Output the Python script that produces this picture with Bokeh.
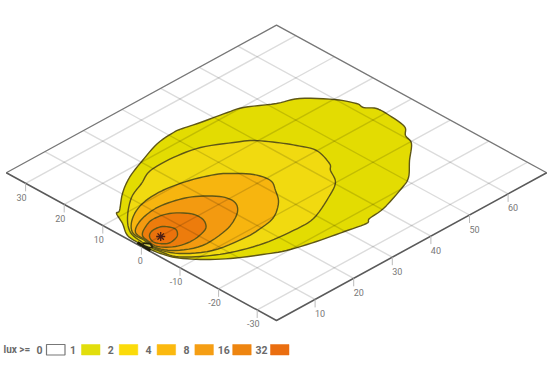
from bokeh.plotting import figure
from bokeh.embed import file_html
from bokeh.resources import INLINE
from bokeh.core.properties import value
import numpy as np

# plan coordinates: u runs along the lower-right edge, v along the lower-left edge
u_ticks = [10, 20, 30, 40, 50, 60]
v_ticks = [30, 20, 10, 0, -10, -20, -30]
u_limits = (0, 70)
v_limits = (-35, 35)

lux1_u = [0.3,0.5,0.84,3.04,4.63,5.73,10.15,14.85,20.56,26.53,31.21,33.32,37.08,42.94,46.2,51.42,55.59,59.88,61.78,61.74,63.19,63.22,62.55,60.55,59.43,55.14,50.98,47.47,40.4,36.22,34.64,29.9,23.9,17.88,13.83,8.73,4.61,1.85,0.85,0.5]
lux1_v = [-0.2,1.0,4.44,7.93,11.08,11.4,15.05,17.93,20.28,22.36,22.89,22.67,21.77,20.63,19.75,16.42,14.63,9.85,6.06,4.2,2.28,-1.06,-5.61,-7.87,-10.54,-14.32,-18.22,-19.91,-22.32,-22.87,-23.67,-22.72,-21.46,-19.7,-17.55,-14.35,-10.7,-7.0,-4.1,-1.85]
lux2_u = [1.12,1.94,5.11,10.37,14.98,19.22,25.29,31.15,36.61,39.68,42.18,44.06,45.47,44.07,42.54,40.34,35.88,28.97,23.53,16.56,10.16,5.32,2.08,1.33,0.98]
lux2_v = [0.84,4.76,8.71,12.93,14.95,16.87,16.97,15.84,12.75,10.63,7.18,3.88,0.1,-4.66,-6.45,-9.94,-12.59,-15.62,-15.87,-15.07,-12.92,-9.99,-6.75,-3.62,-1.38]
lux4_u = [1.86,2.2,5.52,10.37,16.04,21.91,26.7,28.88,31.62,32.4,30.68,28.22,24.02,19.73,15.16,8.3,3.31,1.39]
lux4_v = [1.06,4.51,7.83,10.09,10.57,9.45,7.5,5.8,2.58,-1.05,-4.06,-7.3,-10.2,-11.12,-11.29,-10.12,-6.56,-2.26]
lux8_u = [2.12,2.59,6.08,10.87,15.35,18.89,22.0,22.74,21.73,19.1,14.72,8.19,3.5,1.62]
lux8_v = [0.8,4.12,6.31,7.22,6.52,4.88,1.77,-0.86,-3.17,-5.28,-7.07,-7.64,-5.33,-2.03]
lux16_u = [2.25,2.78,4.7,7.87,11.5,14.09,14.56,13.79,12.0,8.08,4.45,2.12]
lux16_v = [0.67,2.5,3.9,5.0,4.22,1.63,-0.75,-2.82,-4.35,-5.16,-4.38,-2.05]
lux32_u = [3.46,5.27,7.51,8.59,7.79,6.35,4.13,2.68]
lux32_v = [1.36,2.39,2.04,0.01,-1.56,-2.48,-2.63,-0.71]
near_u = [0.5,1.2,1.8,1.4,0.7]
near_v = [0.3,0.5,-0.5,-1.5,-1.2]
tangle_u = [0.48,0.4,0.27]
tangle_v = [1.48,-0.2,-2.09]
source_u = [4.9]
source_v = [-0.1]

legend_labels = ["0", "1", "2", "4", "8", "16", "32"]
legend_colors = ["#FFFFFF", "#E2DE0C", "#FBDB0A", "#FBB90F", "#F59E14", "#EE8510", "#EA6E10"]
fill_colors = ["#E3DC02", "#F1DA10", "#F7B50F", "#F39A10", "#ED7C0C", "#EB720C"]

def sx(u, v):
    return 276 + 3.86 * (np.asarray(u, float) - (np.asarray(v, float) + 35))

def sy(u, v):
    return 320 - 2.11 * (np.asarray(u, float) + (np.asarray(v, float) + 35))

def rounded(xs, ys, n=6):
    """Draw a closed contour as a smooth curve through its read points."""
    pts = np.column_stack([xs, ys])
    out = []
    m = len(pts)
    for i in range(m):
        a, b, c, d = pts[i - 1], pts[i], pts[(i + 1) % m], pts[(i + 2) % m]
        for t in np.arange(n) / n:
            out.append(0.5 * (2 * b + (c - a) * t + (2 * a - 5 * b + 4 * c - d) * t ** 2
                              + (3 * b - a - 3 * c + d) * t ** 3))
    out = np.array(out)
    return out[:, 0], out[:, 1]

p = figure(width=552, height=376, x_range=(0, 552), y_range=(376, 0),
           output_backend="svg", toolbar_location=None, min_border=0,
           background_fill_color="white", outline_line_color=None)
p.axis.visible = False
p.grid.visible = False

contours = [(lux1_u, lux1_v), (lux2_u, lux2_v), (lux4_u, lux4_v),
            (lux8_u, lux8_v), (lux16_u, lux16_v), (lux32_u, lux32_v)]
for (cu, cv), c in zip(contours, fill_colors):
    xs, ys = rounded(sx(cu, cv), sy(cu, cv))
    p.patch(xs, ys, fill_color=c, line_color="#5F5716", line_width=1.4, line_join="round")

u0, u1 = u_limits
v0, v1 = v_limits
for t in u_ticks:
    p.line(sx([t, t], [v0, v1]), sy([t, t], [v0, v1]), line_color="black", line_alpha=0.14, line_width=1.4)
for t in v_ticks:
    p.line(sx([u0, u1], [t, t]), sy([u0, u1], [t, t]), line_color="black", line_alpha=0.14, line_width=1.4)

p.line(sx([u0, u1, u1], [v1, v1, v0]), sy([u0, u1, u1], [v1, v1, v0]), line_color="#777777", line_width=1.3)
p.line(sx([u0, u0, u1], [v1, v0, v0]), sy([u0, u0, u1], [v1, v0, v0]), line_color="#5A5A5A", line_width=1.6)

# ticks and labels
for t in v_ticks:
    x, y = sx(u0, t), sy(u0, t)
    p.segment(x, y, x, y + 8, line_color="#BBBBBB", line_width=1)
    p.text([x - (1 if t == 0 else 4)], [y + 14], text=[str(t)], text_align="center", text_baseline="middle",
           text_font=value("Roboto"), text_font_size="9px", text_color="#777777")
for t in u_ticks:
    x, y = sx(t, v0), sy(t, v0)
    p.segment(x, y, x, y + 8, line_color="#BBBBBB", line_width=1)
    p.text([x + 5], [y + 14], text=[str(t)], text_align="center", text_baseline="middle",
           text_font=value("Roboto"), text_font_size="9px", text_color="#777777")

# tangled contours right next to the lamp
p.line(sx(tangle_u, tangle_v), sy(tangle_u, tangle_v), line_color="#1E1C0A", line_width=3)
p.patch(sx(near_u, near_v), sy(near_u, near_v), fill_color="#D9D65A", line_color="#26240C", line_width=1.8)
p.scatter(sx(source_u, source_v), sy(source_u, source_v), marker="asterisk", size=9,
          line_color="#4A1E14", line_width=1.3)

# legend
p.text([3], [349], text=["lux >="], text_baseline="middle", text_font=value("Roboto"),
       text_font_size="10px", text_font_style="bold", text_color="#6A6A6A")
for i, (lab, c) in enumerate(zip(legend_labels, legend_colors)):
    left = 46 if i == 0 else 81 + (i - 1) * 37.8
    p.quad(left=[left], right=[left + 18.5], top=[344], bottom=[354.5], fill_color=c,
           line_color="#777777" if i == 0 else c, line_width=1.2 if i == 0 else 0.5)
    gap = 3 if len(lab) > 1 else (4 if i == 0 else 5.5)
    p.text([left - gap], [349], text=[lab], text_align="right", text_baseline="middle",
           text_font=value("Roboto"), text_font_size="10.5px", text_font_style="bold", text_color="#6A6A6A")

open("out.html", "w").write(file_html(p, INLINE))
